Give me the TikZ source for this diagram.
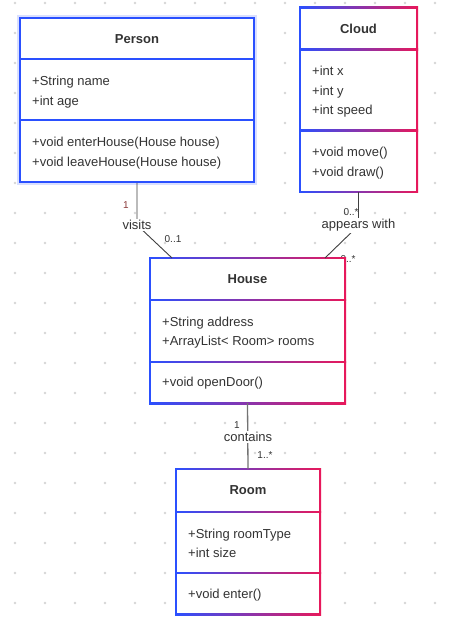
\documentclass[tikz,border=0pt]{standalone}
\usepackage{fontspec}
\setmainfont{Liberation Sans}
\usetikzlibrary{calc,positioning}

\definecolor{umlblue}{HTML}{2A50FF}
\definecolor{umlred}{HTML}{E8185A}
\definecolor{txt}{HTML}{333333}
\definecolor{griddot}{HTML}{D6D6D6}
\definecolor{multred}{HTML}{8B3A3A}

\tikzset{
  classbox/.style={rectangle, inner sep=0pt, fill=white},
  title/.style={font=\fontsize{13}{15}\selectfont\bfseries, text=txt},
  member/.style={anchor=west, align=left, inner sep=0pt, font=\fontsize{13}{19.5}\selectfont, text=txt},
  assoc/.style={draw=black!75, line width=0.9pt},
  rolename/.style={fill=white, inner sep=1pt, font=\fontsize{13}{15}\selectfont, text=txt},
  mult/.style={inner sep=0.5pt, font=\fontsize{10}{12}\selectfont, text=txt}
}

\newcommand{\gradborder}[1]{%
  \shade[left color=umlblue, right color=umlred] (#1.north west) ++(-0.8,-0.8) rectangle ($(#1.south east)+(0.8,0.8)$);
  \fill[white] ($(#1.north west)+(0.8,0.8)$) rectangle ($(#1.south east)-(0.8,0.8)$);}
\newcommand{\graddivider}[2]{%
  \shade[left color=umlblue, right color=umlred] ($(#1.north west)+(-0.8,#2-0.8)$) rectangle ($(#1.north east)+(0.8,#2+0.8)$);}

\begin{document}
\begin{tikzpicture}[x=1pt,y=-1pt]
    \useasboundingbox[fill=white] (0,0) rectangle (459,628);
    \foreach \i in {0,...,14}
      \foreach \j in {0,...,20}
        \fill[griddot] (15+30*\i,3+30*\j) circle (1.3pt);

    % lies partly under the House box
    \node[mult] (m4) at (348,259) {0..*};

    % classes
    \node[classbox, minimum width=234, minimum height=164, draw=umlblue, line width=2pt,
      preaction={draw=umlblue!18, line width=6pt}] (person) at (137,100) {};
    \draw[umlblue, line width=2pt] ($(person.north west)+(0,42)$) -- ($(person.north east)+(0,42)$)
      ($(person.north west)+(0,103)$) -- ($(person.north east)+(0,103)$);

    \node[classbox, minimum width=117, minimum height=184] (cloud) at (358.5,100) {};
    \gradborder{cloud}
    \graddivider{cloud}{42}
    \graddivider{cloud}{123}

    \node[classbox, minimum width=195, minimum height=145] (house) at (247.5,330.5) {};
    \gradborder{house}
    \graddivider{house}{42}
    \graddivider{house}{104}

    \node[classbox, minimum width=144, minimum height=145] (room) at (248,541.5) {};
    \gradborder{room}
    \graddivider{room}{43}
    \graddivider{room}{104}

    \node[title] (person-title) at (137,39) {Person};
    \node[member] (person-attr) at (32,92) {+String name\\+int age};
    \node[member] (person-ops) at (32,153) {+void enterHouse(House house)\\+void leaveHouse(House house)};

    \node[title] (cloud-title) at (358.5,29) {Cloud};
    \node[member] (cloud-attr) at (312,92) {+int x\\+int y\\+int speed};
    \node[member] (cloud-ops) at (312,163) {+void move()\\+void draw()};

    \node[title] (house-title) at (247.5,279) {House};
    \node[member] (house-attr) at (162,332.5) {+String address\\+ArrayList< Room> rooms};
    \node[member] (house-ops) at (162,383) {+void openDoor()};

    \node[title] (room-title) at (248,490.5) {Room};
    \node[member] (room-attr) at (188,543.5) {+String roomType\\+int size};
    \node[member] (room-ops) at (188,595) {+void enter()};

    % associations
    \coordinate (visits-bend) at (137,225);
    \coordinate (house-visits) at (172,258);
    \coordinate (appears-bend) at (358.5,225.5);
    \coordinate (house-appears) at (325,258);
    \draw[assoc] (person.south) -- (visits-bend) -- (house-visits);
    \draw[assoc] (cloud.south) -- (appears-bend) -- (house-appears);
    \draw[assoc, draw=black!55, line width=1.3pt] (house.south) -- (room.north);

    \node[rolename] (visits) at (visits-bend) {visits};
    \node[rolename] (appears) at (appears-bend) {appears with};
    \node[rolename] (contains) at (248,437) {contains};

    \node[mult, text=multred] (m1) at (126,205) {1};
    \node[mult] (m2) at (173,239) {0..1};
    \node[mult] (m3) at (351,212) {0..*};
    \node[mult] (m5) at (237,425) {1};
    \node[mult] (m6) at (265,455) {1..*};
\end{tikzpicture}
\end{document}
